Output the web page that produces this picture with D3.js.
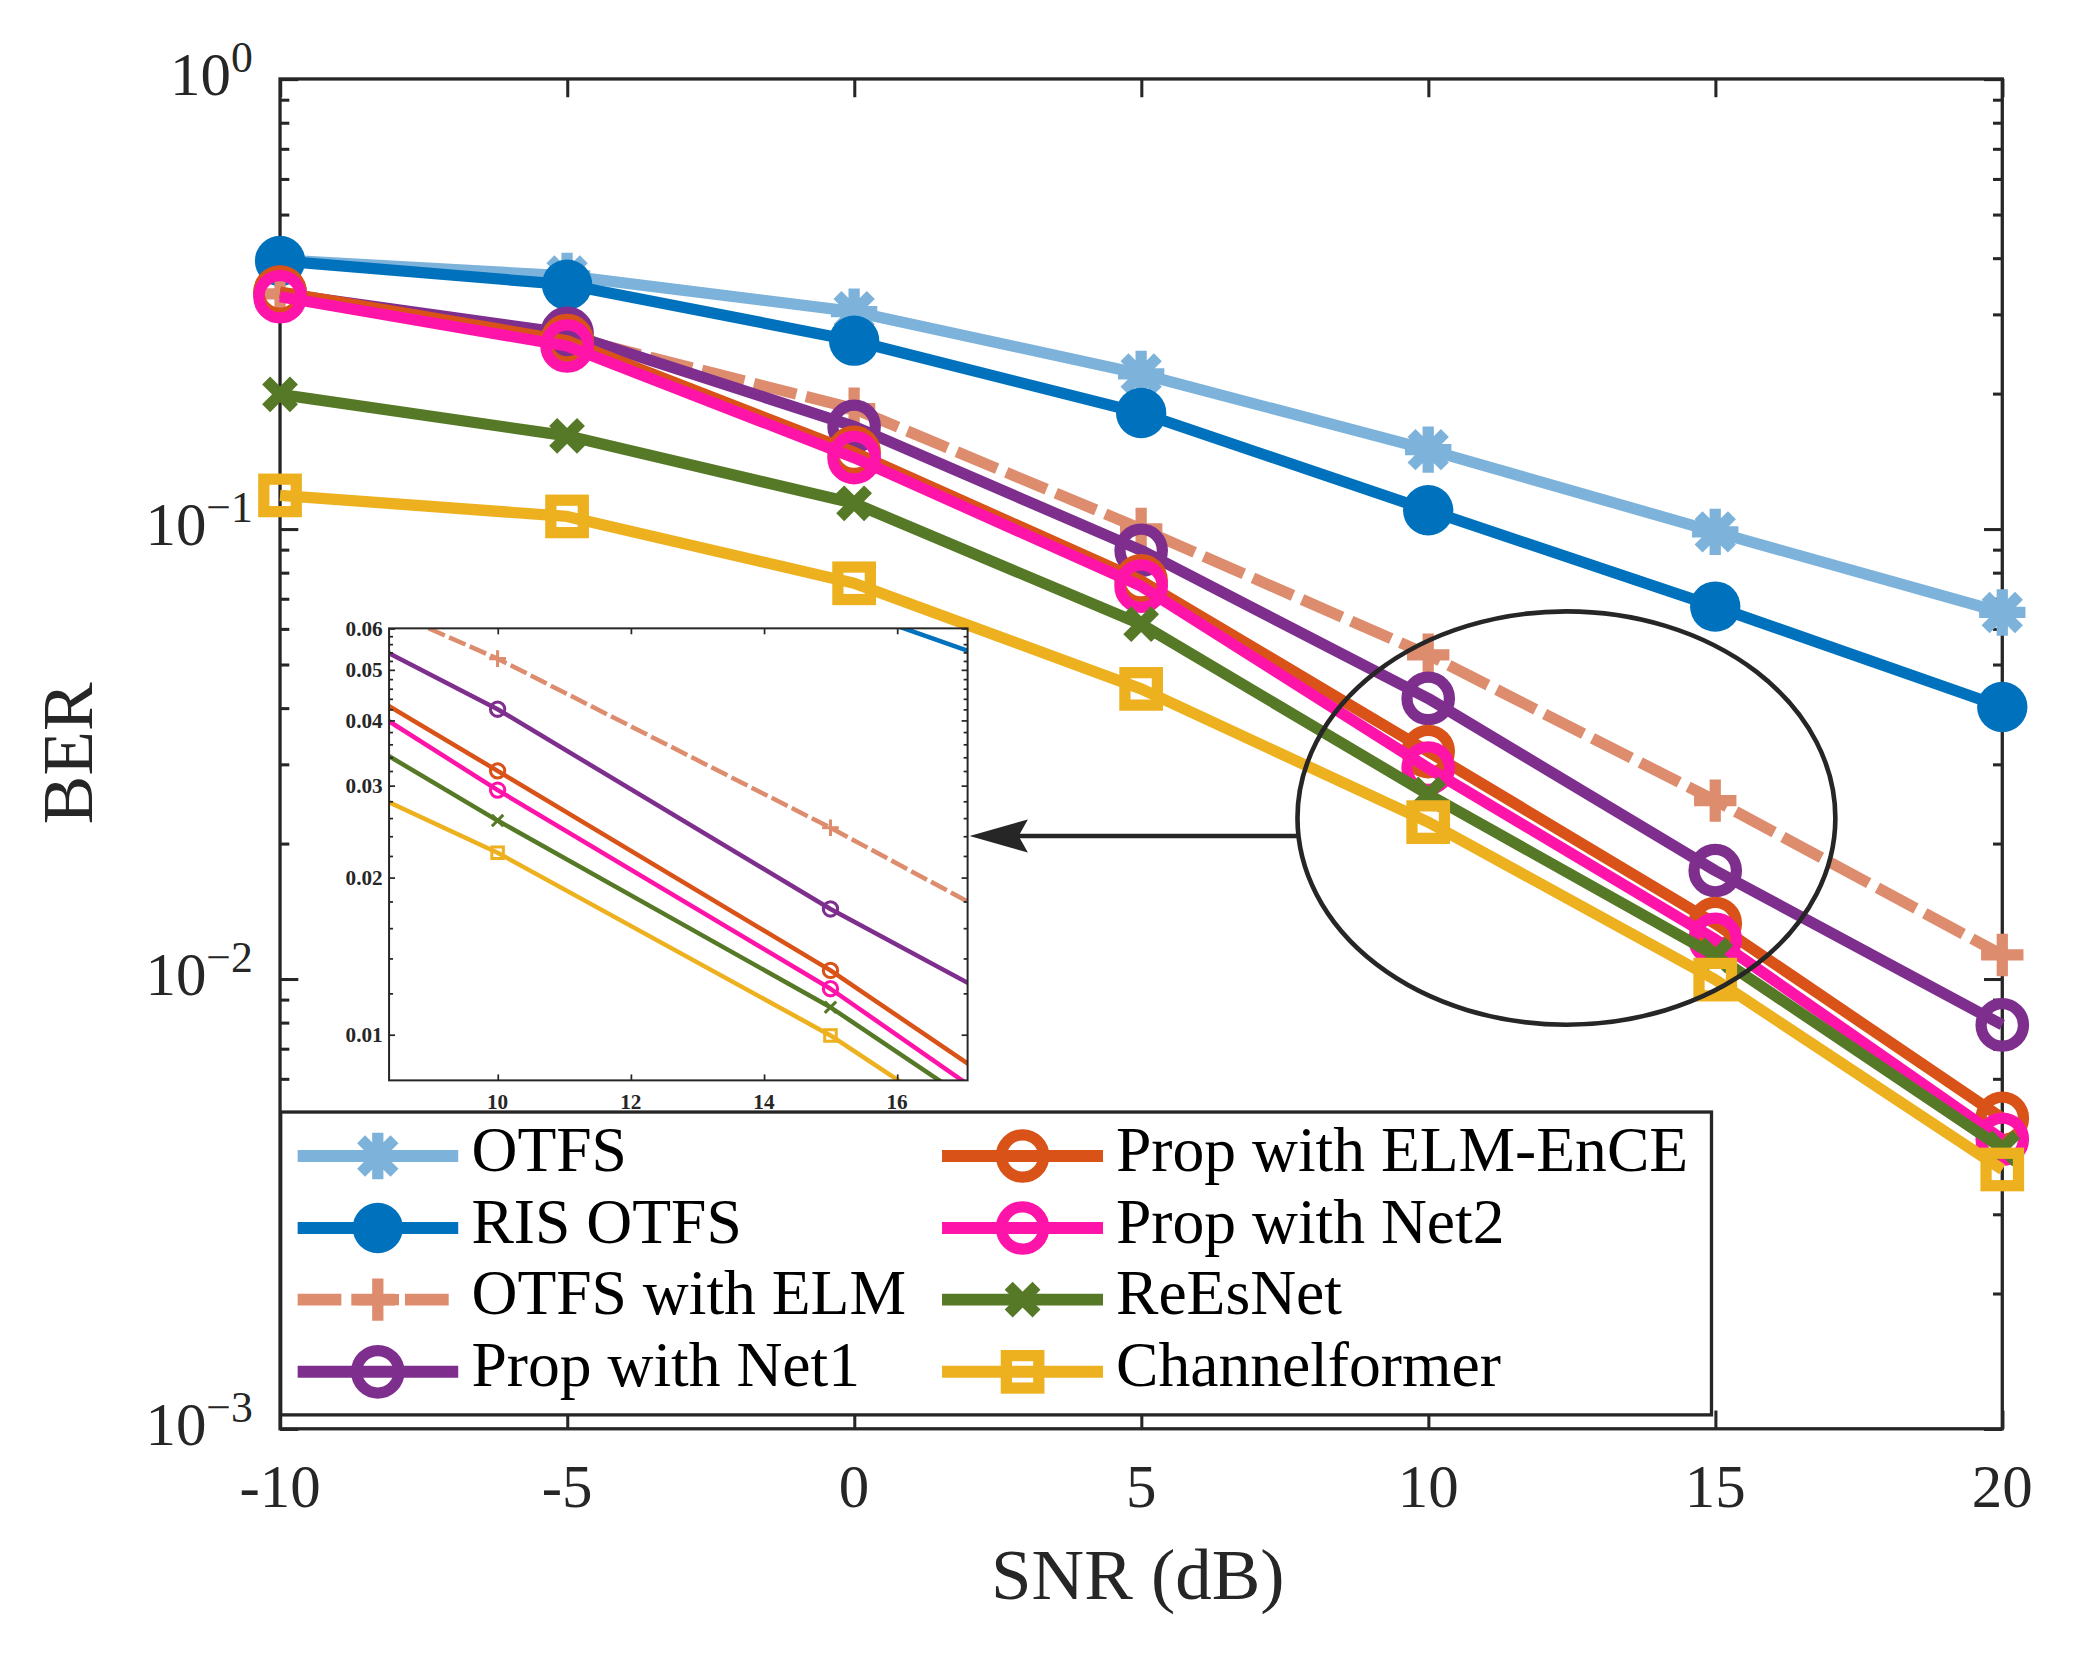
<!DOCTYPE html>
<html><head><meta charset="utf-8">
<script src="https://cdn.jsdelivr.net/npm/d3@7"></script>
<style>
body{margin:0;background:#fff}
svg{display:block}
text{font-family:"Liberation Serif","Times New Roman",serif;fill:#262626}
</style>
</head><body>
<script>
// ---------------- data ----------------
const snr = [-10, -5, 0, 5, 10, 15, 20];
const otfs          = [0.396, 0.365, 0.304, 0.221, 0.150, 0.0985, 0.0652];
const risOtfs       = [0.394, 0.349, 0.262, 0.181, 0.110, 0.0672, 0.0402];
const otfsWithElm   = [0.333, 0.268, 0.185, 0.100, 0.0525, 0.0249, 0.0113];
const propNet1      = [0.334, 0.272, 0.169, 0.0896, 0.0420, 0.0174, 0.0079];
const propElmEnce   = [0.336, 0.262, 0.148, 0.0767, 0.0320, 0.01327, 0.0049];
const propNet2      = [0.328, 0.255, 0.144, 0.0746, 0.0294, 0.01224, 0.0044];
const reEsNet       = [0.199, 0.161, 0.114, 0.0614, 0.0257, 0.01128, 0.0042];
const channelformer = [0.1187, 0.1066, 0.0757, 0.0441, 0.0223, 0.00996, 0.00377];

const seriesNames   = ["OTFS", "RIS OTFS", "OTFS with ELM", "Prop with Net1",
                       "Prop with ELM-EnCE", "Prop with Net2", "ReEsNet", "Channelformer"];
const seriesValues  = [otfs, risOtfs, otfsWithElm, propNet1, propElmEnce, propNet2, reEsNet, channelformer];
const seriesColors  = ["#7db3db", "#0072bd", "#de8c6e", "#7e2f8e", "#d95319", "#ff14a9", "#557926", "#edb120"];
const seriesMarkers = ["asterisk", "filled", "plus", "circle", "circle", "circle", "x", "square"];
const seriesDashed  = [false, false, true, false, false, false, false, false];

const xTicks = [-10, -5, 0, 5, 10, 15, 20];
const xTickLabels = ["-10", "-5", "0", "5", "10", "15", "20"];
const yTicks = [1e-3, 1e-2, 1e-1, 1];
const yTickExps = ["\u22123", "\u22122", "\u22121", "0"];
const insetXTicks = [10, 12, 14, 16];
const insetXTickLabels = ["10", "12", "14", "16"];
const insetYTicks = [0.01, 0.02, 0.03, 0.04, 0.05, 0.06];
const insetYTickLabels = ["0.01", "0.02", "0.03", "0.04", "0.05", "0.06"];

// ---------------- setup ----------------
const AX = "#262626";
const svg = d3.select("body").append("svg")
  .attr("width", 2073).attr("height", 1656)
  .attr("viewBox", "0 0 1563 1250");
svg.append("rect").attr("width", 1563).attr("height", 1250).attr("fill", "#fff");

const L = 210.5, R = 1510.5, T = 59.6, B = 1078.5;
const x = d3.scaleLinear().domain([-10, 20]).range([L, R]);
const y = d3.scaleLog().domain([1e-3, 1]).range([B, T]);

const minorY = [];
[-3, -2, -1].forEach(k => { for (let m = 2; m <= 9; m++) minorY.push(m * Math.pow(10, k)); });

function drawMarker(g, type, cx, cy, sz, color, sw) {
  if (type === "filled") {
    g.append("circle").attr("cx", cx).attr("cy", cy).attr("r", sz.fr).attr("fill", color);
    return;
  }
  if (type === "circle") {
    g.append("circle").attr("cx", cx).attr("cy", cy).attr("r", sz.r)
      .attr("fill", "none").attr("stroke", color).attr("stroke-width", sw);
    return;
  }
  if (type === "square") {
    g.append("rect").attr("x", cx - sz.s / 2).attr("y", cy - sz.s / 2)
      .attr("width", sz.s).attr("height", sz.s)
      .attr("fill", "none").attr("stroke", color).attr("stroke-width", sw);
    return;
  }
  let d = "";
  if (type === "plus") {
    const a = sz.p;
    d = `M${cx - a},${cy}L${cx + a},${cy}M${cx},${cy - a}L${cx},${cy + a}`;
  } else if (type === "x") {
    const a = sz.x;
    d = `M${cx - a},${cy - a}L${cx + a},${cy + a}M${cx - a},${cy + a}L${cx + a},${cy - a}`;
  } else if (type === "asterisk") {
    const a = sz.a, b = sz.a * 0.72;
    d = `M${cx - a},${cy}L${cx + a},${cy}M${cx},${cy - a}L${cx},${cy + a}` +
        `M${cx - b},${cy - b}L${cx + b},${cy + b}M${cx - b},${cy + b}L${cx + b},${cy - b}`;
  }
  g.append("path").attr("d", d).attr("fill", "none").attr("stroke", color)
    .attr("stroke-width", sw).attr("stroke-linecap", "butt");
}

// ---------------- main axes frame & ticks ----------------
const axesG = svg.append("g");
const major = 13.8, minor = 7;
axesG.append("g").attr("transform", `translate(0,${B})`)
  .call(d3.axisBottom(x).tickValues(xTicks).tickSizeInner(-major).tickSizeOuter(0).tickFormat(""));
axesG.append("g").attr("transform", `translate(0,${T})`)
  .call(d3.axisTop(x).tickValues(xTicks).tickSizeInner(-major).tickSizeOuter(0).tickFormat(""));
axesG.append("g").attr("transform", `translate(${L},0)`)
  .call(d3.axisLeft(y).tickValues(yTicks).tickSizeInner(-major).tickSizeOuter(0).tickFormat(""));
axesG.append("g").attr("transform", `translate(${R},0)`)
  .call(d3.axisRight(y).tickValues(yTicks).tickSizeInner(-major).tickSizeOuter(0).tickFormat(""));
axesG.append("g").attr("transform", `translate(${L},0)`)
  .call(d3.axisLeft(y).tickValues(minorY).tickSizeInner(-minor).tickSizeOuter(0).tickFormat(""));
axesG.append("g").attr("transform", `translate(${R},0)`)
  .call(d3.axisRight(y).tickValues(minorY).tickSizeInner(-minor).tickSizeOuter(0).tickFormat(""));
axesG.selectAll(".domain").remove();
axesG.selectAll(".tick line").attr("stroke", AX).attr("stroke-width", 2.3);
axesG.append("rect").attr("x", L).attr("y", T).attr("width", R - L).attr("height", B - T)
  .attr("fill", "none").attr("stroke", AX).attr("stroke-width", 2.5);

// tick labels
xTicks.forEach((v, i) => {
  svg.append("text").attr("x", x(v)).attr("y", 1137.5).attr("text-anchor", "middle")
    .attr("font-size", 46).text(xTickLabels[i]);
});
yTicks.forEach((v, i) => {
  const t = svg.append("text").attr("x", 190).attr("y", y(v) + 12).attr("text-anchor", "end")
    .attr("font-size", 46);
  t.append("tspan").text("10");
  t.append("tspan").attr("dy", -17.3).attr("font-size", 33).text(yTickExps[i]);
});
svg.append("text").attr("transform", "translate(68.4,568.6) rotate(-90)")
  .attr("text-anchor", "middle").attr("font-size", 55).text("BER");
svg.append("text").attr("x", 858).attr("y", 1207).attr("text-anchor", "middle")
  .attr("font-size", 55).text("SNR (dB)");

// ---------------- main series ----------------
const mainSz = {r: 16, fr: 19, s: 24.5, a: 17.5, p: 16, x: 10.5};
const mainLW = 8.5;
const lineMain = d3.line().x((d, i) => x(snr[i])).y(d => y(d));
seriesValues.forEach((vals, k) => {
  const g = svg.append("g");
  g.append("path").attr("d", lineMain(vals)).attr("fill", "none")
    .attr("stroke", seriesColors[k]).attr("stroke-width", mainLW)
    .attr("stroke-linejoin", "round")
    .attr("stroke-dasharray", seriesDashed[k] ? "33,7.5" : null);
  vals.forEach((v, i) => drawMarker(g, seriesMarkers[k], x(snr[i]), y(v), mainSz, seriesColors[k], mainLW));
});

// ---------------- inset ----------------
const iL = 292.8, iR = 729.5, iT = 474.3, iB = 815.5;
const ix = d3.scaleLinear().domain([8.37, 17.06]).range([iL, iR]);
const iy = d3.scaleLog().domain([0.00817, 0.06]).range([iB, iT]);
svg.append("defs").append("clipPath").attr("id", "insetClip")
  .append("rect").attr("x", iL).attr("y", iT).attr("width", iR - iL).attr("height", iB - iT);
svg.append("rect").attr("x", iL).attr("y", iT).attr("width", iR - iL).attr("height", iB - iT).attr("fill", "#fff");

const inset = svg.append("g").attr("clip-path", "url(#insetClip)");
const inSz = {r: 5.4, fr: 6, s: 8.7, a: 6.5, p: 6.3, x: 4.3};
const inLW = 3.4;
const lineInset = d3.line().x((d, i) => ix(snr[i])).y(d => iy(d));
seriesValues.forEach((vals, k) => {
  const g = inset.append("g");
  g.append("path").attr("d", lineInset(vals)).attr("fill", "none")
    .attr("stroke", seriesColors[k]).attr("stroke-width", inLW)
    .attr("stroke-linejoin", "round")
    .attr("stroke-dasharray", seriesDashed[k] ? "13.5,3.5" : null);
  vals.forEach((v, i) => {
    if (snr[i] >= 8.37 && snr[i] <= 17.06 && v >= 0.00817 && v <= 0.06)
      drawMarker(g, seriesMarkers[k], ix(snr[i]), iy(v), inSz, seriesColors[k], 2.3);
  });
});

const insetMinorY = d3.range(0.012, 0.0595, 0.002).filter(v => Math.abs(v * 100 - Math.round(v * 100)) > 1e-6);
const iaxG = svg.append("g");
iaxG.append("g").attr("transform", `translate(0,${iB})`)
  .call(d3.axisBottom(ix).tickValues(insetXTicks).tickSizeInner(-4.5).tickSizeOuter(0).tickFormat(""));
iaxG.append("g").attr("transform", `translate(0,${iT})`)
  .call(d3.axisTop(ix).tickValues(insetXTicks).tickSizeInner(-4.5).tickSizeOuter(0).tickFormat(""));
iaxG.append("g").attr("transform", `translate(${iL},0)`)
  .call(d3.axisLeft(iy).tickValues(insetYTicks).tickSizeInner(-4.5).tickSizeOuter(0).tickFormat(""));
iaxG.append("g").attr("transform", `translate(${iR},0)`)
  .call(d3.axisRight(iy).tickValues(insetYTicks).tickSizeInner(-4.5).tickSizeOuter(0).tickFormat(""));
iaxG.append("g").attr("transform", `translate(${iL},0)`)
  .call(d3.axisLeft(iy).tickValues(insetMinorY).tickSizeInner(-3).tickSizeOuter(0).tickFormat(""));
iaxG.append("g").attr("transform", `translate(${iR},0)`)
  .call(d3.axisRight(iy).tickValues(insetMinorY).tickSizeInner(-3).tickSizeOuter(0).tickFormat(""));
iaxG.selectAll(".domain").remove();
iaxG.selectAll(".tick line").attr("stroke", AX).attr("stroke-width", 1.3);
iaxG.append("rect").attr("x", iL).attr("y", iT).attr("width", iR - iL).attr("height", iB - iT)
  .attr("fill", "none").attr("stroke", AX).attr("stroke-width", 1.5);
insetXTicks.forEach((v, i) => {
  svg.append("text").attr("x", ix(v)).attr("y", 837).attr("text-anchor", "middle")
    .attr("font-size", 16).attr("font-weight", "bold").text(insetXTickLabels[i]);
});
insetYTicks.forEach((v, i) => {
  svg.append("text").attr("x", 288).attr("y", iy(v) + 5.5).attr("text-anchor", "end")
    .attr("font-size", 16).attr("font-weight", "bold").text(insetYTickLabels[i]);
});

// ---------------- legend ----------------
const lg = svg.append("g");
lg.append("rect").attr("x", 211).attr("y", 839.4).attr("width", 1291 - 211).attr("height", 1068 - 839.4)
  .attr("fill", "#fff").attr("stroke", AX).attr("stroke-width", 2.5);
const legendRows = [872.6, 926.9, 981, 1035.5];
const legendCols = [{l: 223.8, r: 345, m: 284.3, t: 355}, {l: 710.2, r: 831.7, m: 771, t: 841.5}];
seriesNames.forEach((name, k) => {
  const c = legendCols[Math.floor(k / 4)], ry = legendRows[k % 4];
  const g = lg.append("g");
  g.append("line").attr("x1", c.l).attr("x2", c.r).attr("y1", ry).attr("y2", ry)
    .attr("stroke", seriesColors[k]).attr("stroke-width", 9)
    .attr("stroke-dasharray", seriesDashed[k] ? "33,7.5" : null);
  drawMarker(g, seriesMarkers[k], c.m, ry, mainSz, seriesColors[k], 8.5);
  g.append("text").attr("x", c.t).attr("y", ry + 11).attr("font-size", 48)
    .style("fill", "#000").text(name);
});

// ---------------- annotations ----------------
svg.append("ellipse").attr("cx", 1181.5).attr("cy", 617.5).attr("rx", 203).attr("ry", 156)
  .attr("fill", "none").attr("stroke", AX).attr("stroke-width", 3.5);
svg.append("line").attr("x1", 979).attr("y1", 631).attr("x2", 765).attr("y2", 631)
  .attr("stroke", AX).attr("stroke-width", 3.5);
svg.append("path").attr("d", "M731,631L775,618.5L768,631L775,643.5Z").attr("fill", AX);
</script>
</body></html>
